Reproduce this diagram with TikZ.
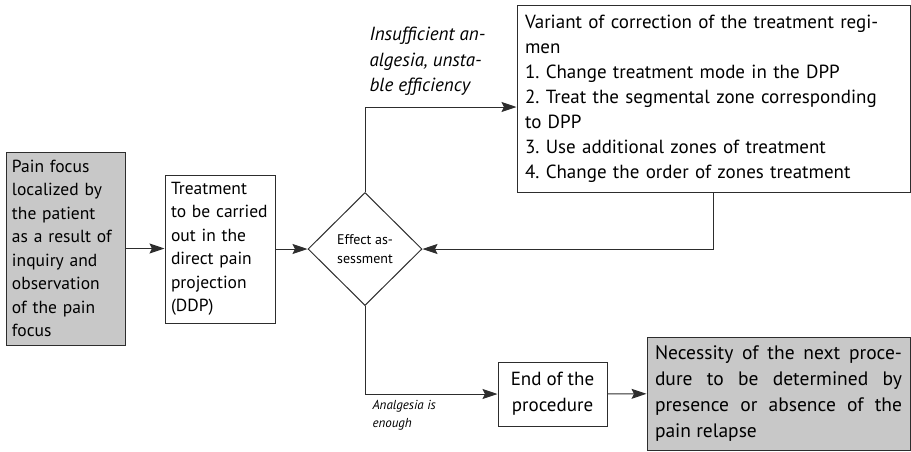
\documentclass[tikz,border=0pt]{standalone}
\usepackage{fontspec}
\setmainfont{PT Sans}
\usetikzlibrary{arrows.meta, shapes.geometric}
\definecolor{BoxGrey}{RGB}{200,200,200}
\definecolor{LineGrey}{RGB}{45,45,45}
\frenchspacing

\begin{document}
\begin{tikzpicture}[
    x=1pt, y=-1pt,
    >={Stealth[length=15pt, width=10pt, inset=2.5pt]},
    line width=1pt,
    % Styles
    block/.style={rectangle, draw=LineGrey, fill=white, inner xsep=6pt, inner ysep=0pt, font=\fontsize{17.5}{23.5}\selectfont, align=left},
    grey_block/.style={block, fill=BoxGrey},
    decision/.style={diamond, draw=LineGrey, fill=white, inner sep=0pt, minimum width=114pt, minimum height=113pt, font=\fontsize{14}{19}\selectfont, align=center},
    link/.style={->, draw=LineGrey},
    note/.style={font=\itshape\fontsize{19}{25.5}\selectfont, align=left, inner sep=0pt},
    small_note/.style={note, font=\itshape\fontsize{13}{18}\selectfont}
]
    \useasboundingbox (0,0) rectangle (911,451);

    % 1. INPUT AND TREATMENT
    \node[grey_block, text width=107pt, minimum height=193pt] (focus) at (65.5,248.5)
        {Pain focus\\localized by\\the patient\\as a result of\\inquiry and\\observation\\of the pain\\focus};
    \node[block, text width=98pt, minimum height=148pt] (treat) at (220,249)
        {Treatment\\to be carried\\out in the\\direct pain\\projection\\(DDP)};

    % 2. THE DECISION
    \node[decision] (assess) at (365,249) {Effect as-\\sessment};

    % 3. CORRECTION LOOP
    \node[block, inner xsep=8pt, text width=377pt, minimum height=187pt, font=\fontsize{19}{25}\selectfont] (variant) at (713.5,98.5)
        {Variant of correction of the treatment regi-\\men\\1. Change treatment mode in the DPP\\2. Treat the segmental zone corresponding\\to DPP\\3. Use additional zones of treatment\\4. Change the order of zones treatment};
    \coordinate (upper) at (365,107);
    \node[note, anchor=south west] (insuff) at (369,96) {Insufficient an-\\algesia, unsta-\\ble efficiency};

    % 4. END OF THE PROCEDURE
    \node[block, align=center, minimum width=109pt, minimum height=64pt, font=\fontsize{19}{26}\selectfont] (finish) at (552.5,394)
        {End of the\\procedure};
    \node[grey_block, inner xsep=8pt, text width=247pt, minimum height=113pt, align=justify, font=\fontsize{19.5}{26}\selectfont] (next) at (778.5,393.5)
        {Necessity of the next proce-\linebreak dure to be determined by\linebreak presence or absence of the\linebreak pain relapse};
    \node[small_note, anchor=north west] (enough) at (372,400) {Analgesia is\\enough};

    % Connectors
    \draw[link] (focus.east) -- (focus.east -| treat.west);
    \draw[link] (treat) -- (assess);
    \draw[link] (assess.north) -- (upper) -- (upper -| variant.west);
    \draw[link] (variant.south) |- (assess.east);
    \draw[link] (assess.south) |- (finish.west);
    \draw[link] (finish) -- (next);

\end{tikzpicture}
\end{document}
